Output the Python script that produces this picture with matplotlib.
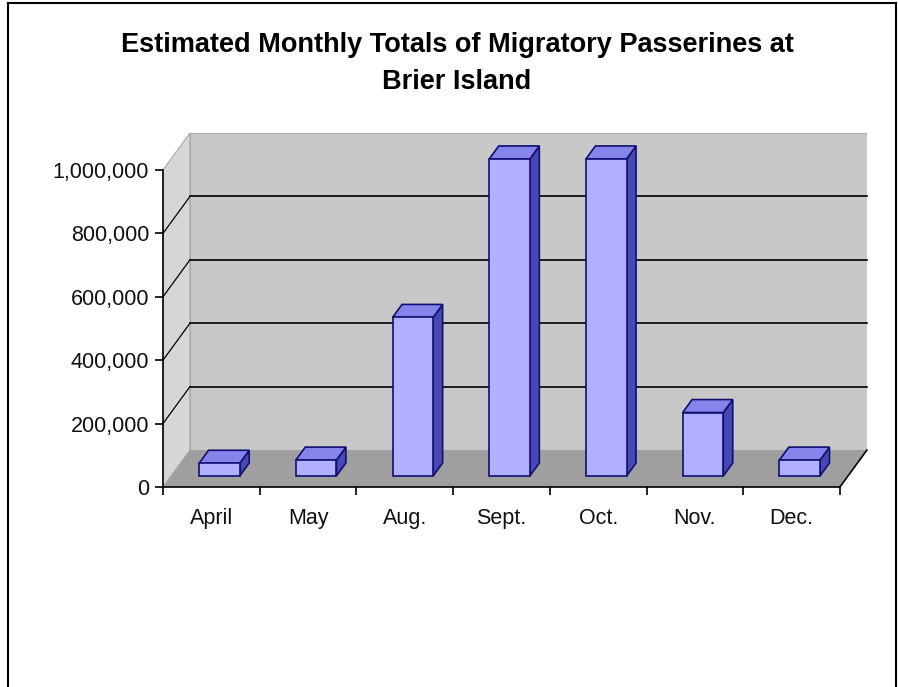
import numpy as np
import matplotlib.pyplot as plt
from matplotlib.patches import Polygon
from matplotlib.lines import Line2D
from matplotlib.ticker import FuncFormatter

months = ['April', 'May', 'Aug.', 'Sept.', 'Oct.', 'Nov.', 'Dec.']
totals = [40000, 50000, 500000, 1000000, 1000000, 200000, 50000]
yticks = [0, 200000, 400000, 600000, 800000, 1000000]

plt.rcParams['font.family'] = ['Liberation Sans', 'DejaVu Sans']

# oblique 3d look: full depth offset in data units
DX = 0.279
DY = 116700
d0, d1 = 0.30, 0.65   # bar depth range (fraction of floor depth)
bw = 0.42
n = len(months)
xl, xr = -0.5, n - 0.5
ymax = yticks[-1]

fig = plt.figure(figsize=(8.98, 6.87), dpi=100)
ax = fig.add_axes([163/898, 200/687, 704/898, 354/687])
ax.set_xlim(xl, xl + 704/96.71)
ax.set_ylim(0, ymax + DY)
ax.patch.set_visible(False)

# walls and floor
back = Polygon([(xl+DX, DY), (xr+DX, DY), (xr+DX, ymax+DY), (xl+DX, ymax+DY)],
               closed=True, fc='#c8c8c8', ec='#a8a8a8', lw=0.8, zorder=0)
left = Polygon([(xl, 0), (xl+DX, DY), (xl+DX, ymax+DY), (xl, ymax)],
               closed=True, fc='#d6d6d6', ec='#a8a8a8', lw=0.8, zorder=0)
floor = Polygon([(xl, 0), (xr, 0), (xr+DX, DY), (xl+DX, DY)],
                closed=True, fc='#9f9f9f', ec='none', zorder=0.5)
for p in (back, left, floor):
    ax.add_patch(p)
ax.plot([xr, xr+DX], [0, DY], color='black', lw=1.2, zorder=1, clip_on=False)

# gridlines on back wall and left wall (top one is just the wall edge)
for v in yticks[1:-1]:
    ax.plot([xl+DX, xr+DX], [v+DY, v+DY], color='black', lw=1.2, zorder=1, clip_on=False)
    ax.plot([xl, xl+DX], [v, v+DY], color='black', lw=0.9, zorder=1, clip_on=False)

# bars
front_c = '#b0b0ff'
top_c = '#8484ea'
side_c = '#4848b4'
edge_c = '#101070'
ddx = (d1 - d0) * DX
ddy = (d1 - d0) * DY
xs = np.arange(n) + d0 * DX
ybase = d0 * DY
ax.bar(xs, totals, width=bw, bottom=ybase, color=front_c, edgecolor=edge_c, lw=1.2, zorder=3)
for x, v in zip(xs, totals):
    x0, x1 = x - bw/2, x + bw/2
    yt = ybase + v
    side = Polygon([(x1, ybase), (x1+ddx, ybase+ddy), (x1+ddx, yt+ddy), (x1, yt)],
                   closed=True, fc=side_c, ec=edge_c, lw=1.2, zorder=2)
    top = Polygon([(x0, yt), (x1, yt), (x1+ddx, yt+ddy), (x0+ddx, yt+ddy)],
                  closed=True, fc=top_c, ec=edge_c, lw=1.2, zorder=2)
    ax.add_patch(side)
    ax.add_patch(top)

# axes
for s in ('top', 'right'):
    ax.spines[s].set_visible(False)
ax.spines['left'].set_bounds(0, ymax)
ax.spines['bottom'].set_bounds(xl, xr)
ax.spines['left'].set_linewidth(1.2)
ax.spines['bottom'].set_linewidth(1.2)
ax.spines['left'].set_zorder(4)
ax.spines['bottom'].set_zorder(4)
ax.set_yticks(yticks)
ax.yaxis.set_major_formatter(FuncFormatter(lambda v, p: '{:,}'.format(int(v))))
ax.tick_params(axis='y', direction='out', length=6, width=1.2, pad=4, labelsize=15.5, labelcolor='#111111')
ax.set_xticks(np.arange(n + 1) - 0.5)
ax.set_xticklabels([])
ax.set_xticks(np.arange(n), minor=True)
ax.set_xticklabels(months, minor=True)
ax.tick_params(axis='x', which='major', direction='out', length=6, width=1.2)
ax.tick_params(axis='x', which='minor', length=0, pad=15, labelsize=15.5, labelcolor='#111111')

fig.text(0.509, 1 - 45/687, 'Estimated Monthly Totals of Migratory Passerines at',
         ha='center', va='center', fontsize=19.5, fontweight='bold')
fig.text(0.509, 1 - 82/687, 'Brier Island', ha='center', va='center',
         fontsize=19.5, fontweight='bold')

# chart frame
fig.add_artist(Line2D([8/898, 8/898], [0, 1 - 3/687], color='black', lw=1.5))
fig.add_artist(Line2D([8/898, 896/898], [1 - 3/687, 1 - 3/687], color='black', lw=1.5))
fig.add_artist(Line2D([896/898, 896/898], [0, 1 - 3/687], color='black', lw=1.5))

fig.savefig('out.png', dpi=100)
